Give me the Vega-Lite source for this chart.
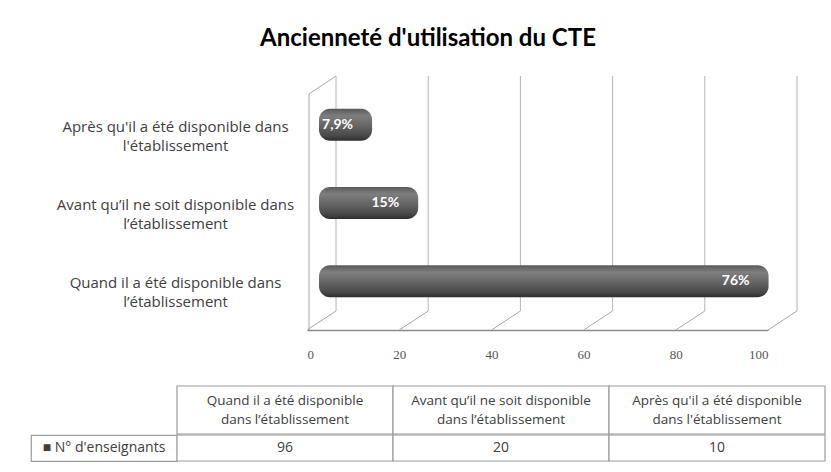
{
  "$schema": "https://vega.github.io/schema/vega-lite/v6.json",
  "background": "white",
  "padding": {"left": 30, "top": 26, "right": 0, "bottom": 0},
  "title": {"text": "Ancienneté d'utilisation du CTE", "fontSize": 24, "font": "Lato", "fontWeight": "bold", "color": "#000000", "anchor": "middle", "offset": 25},
  "config": {"view": {"stroke": null}},
  "datasets": {
    "rows": [
      {"cat": "Quand il a été disponible dans\nl’établissement", "tab": "Quand il a été disponible\ndans l’établissement", "n": 96, "pct": "76%"},
      {"cat": "Avant qu’il ne soit disponible dans\nl’établissement", "tab": "Avant qu’il ne soit disponible\ndans l’établissement", "n": 20, "pct": "15%"},
      {"cat": "Après qu'il a été disponible dans\nl'établissement", "tab": "Après qu'il a été disponible\ndans l'établissement", "n": 10, "pct": "7,9%"}
    ],
    "ticks": [{"t": 0}, {"t": 20}, {"t": 40}, {"t": 60}, {"t": 80}, {"t": 100}],
    "legend": [{"label": "■ N° d'enseignants"}]
  },
  "spacing": 24,
  "vconcat": [
    {
      "bounds": "flush",
      "spacing": 0,
      "hconcat": [
        {"width": 276, "height": 254, "data": {"values": [{}]}, "mark": {"type": "text", "text": " "}},
        {
          "width": 461,
          "height": 254,
          "layer": [
            {
              "data": {"name": "ticks"},
              "mark": {"type": "rule", "color": "#b4b4b4", "strokeWidth": 1, "xOffset": 29, "y2Offset": -19},
              "encoding": {
                "x": {"field": "t", "type": "quantitative", "scale": {"domain": [0, 100], "nice": false}},
                "y": {"value": 0},
                "y2": {"value": "height"}
              }
            },
            {
              "data": {"name": "ticks"},
              "mark": {"type": "rule", "color": "#a8a8a8", "strokeWidth": 1, "x2Offset": 29, "y2Offset": -19},
              "encoding": {
                "x": {"field": "t", "type": "quantitative"},
                "x2": {"field": "t"},
                "y": {"value": "height"},
                "y2": {"value": "height"}
              }
            },
            {
              "data": {"name": "ticks"},
              "transform": [{"filter": "datum.t == 0"}],
              "mark": {"type": "rule", "color": "#a8a8a8", "strokeWidth": 1, "xOffset": 2, "yOffset": 18},
              "encoding": {
                "x": {"field": "t", "type": "quantitative"},
                "y": {"value": 0},
                "y2": {"value": "height"}
              }
            },
            {
              "data": {"name": "ticks"},
              "transform": [{"filter": "datum.t == 0"}],
              "mark": {"type": "rule", "color": "#a8a8a8", "strokeWidth": 1, "xOffset": 2, "yOffset": 18, "x2Offset": 29, "y2Offset": 0},
              "encoding": {
                "x": {"field": "t", "type": "quantitative"},
                "x2": {"field": "t"},
                "y": {"value": 0},
                "y2": {"value": 0}
              }
            },
            {
              "data": {"name": "rows"},
              "mark": {
                "type": "bar",
                "xOffset": 19,
                "x2Offset": 12,
                "cornerRadius": 6,
                "cornerRadiusEnd": 11,
                "color": {
                  "gradient": "linear", "x1": 0, "y1": 0, "x2": 0, "y2": 1,
                  "stops": [
                    {"offset": 0, "color": "#5a5a5a"},
                    {"offset": 0.22, "color": "#7e7e7e"},
                    {"offset": 0.55, "color": "#646464"},
                    {"offset": 0.85, "color": "#474747"},
                    {"offset": 1, "color": "#2c2c2c"}
                  ]
                }
              },
              "encoding": {
                "x": {
                  "field": "n", "type": "quantitative",
                  "scale": {"domain": [0, 100], "nice": false},
                  "axis": {
                    "title": null, "values": [0, 20, 40, 60, 80, 100], "grid": false, "ticks": false,
                    "domainColor": "#8c8c8c", "domainWidth": 1.5,
                    "labelFont": "Liberation Serif", "labelFontSize": 13, "labelColor": "#555555", "labelPadding": 18
                  }
                },
                "x2": {"datum": 0},
                "y": {
                  "field": "cat", "type": "nominal",
                  "scale": {"paddingInner": 0.59, "paddingOuter": 0.42},
                  "axis": {
                    "title": null, "domain": false, "ticks": false,
                    "labelAlign": "center", "labelBaseline": "middle", "labelPadding": 132, "labelOffset": 2,
                    "labelFont": "Open Sans", "labelFontSize": 15, "labelColor": "#404040", "labelLineHeight": 19, "labelLimit": 400,
                    "labelExpr": "split(datum.label, '\\n')"
                  }
                }
              }
            },
            {
              "data": {"name": "rows"},
              "mark": {"type": "text", "align": "right", "baseline": "middle", "dx": 0, "font": "Lato", "fontWeight": "bold", "fontSize": 14, "color": "#ffffff"},
              "encoding": {
                "x": {"field": "n", "type": "quantitative"},
                "y": {"field": "cat", "type": "nominal"},
                "text": {"field": "pct"}
              }
            }
          ]
        }
      ]
    },
    {
      "spacing": -1,
      "vconcat": [
        {
          "bounds": "flush",
          "spacing": 0,
          "hconcat": [
            {"width": 146, "height": 48, "data": {"values": [{}]}, "mark": {"type": "text", "text": " "}},
            {
              "width": 648,
              "height": 48,
              "data": {"name": "rows"},
              "encoding": {
                "x": {"field": "tab", "type": "nominal", "sort": "descending", "scale": {"paddingInner": 0, "paddingOuter": 0}, "axis": null}
              },
              "layer": [
                {"mark": {"type": "rect", "fill": "#ffffff", "stroke": "#9c9c9c", "strokeWidth": 1.2}},
                {"mark": {"type": "text", "lineBreak": "\n", "lineHeight": 19, "dy": -9.5, "font": "Open Sans", "fontSize": 13.5, "color": "#404040", "baseline": "middle"}, "encoding": {"text": {"field": "tab"}}}
              ]
            }
          ]
        },
        {
          "bounds": "flush",
          "spacing": 0,
          "hconcat": [
            {
              "width": 146,
              "height": 26,
              "view": {"stroke": "#9c9c9c", "strokeWidth": 1.2},
              "data": {"name": "legend"},
              "mark": {"type": "text", "font": "Open Sans", "fontSize": 14, "color": "#404040", "baseline": "middle"},
              "encoding": {"text": {"field": "label"}}
            },
            {
              "width": 648,
              "height": 26,
              "data": {"name": "rows"},
              "encoding": {
                "x": {"field": "tab", "type": "nominal", "sort": "descending", "scale": {"paddingInner": 0, "paddingOuter": 0}, "axis": null}
              },
              "layer": [
                {"mark": {"type": "rect", "fill": "#ffffff", "stroke": "#9c9c9c", "strokeWidth": 1.2}},
                {"mark": {"type": "text", "font": "Open Sans", "fontSize": 14, "color": "#404040", "baseline": "middle"}, "encoding": {"text": {"field": "n", "type": "quantitative"}}}
              ]
            }
          ]
        }
      ]
    }
  ]
}
